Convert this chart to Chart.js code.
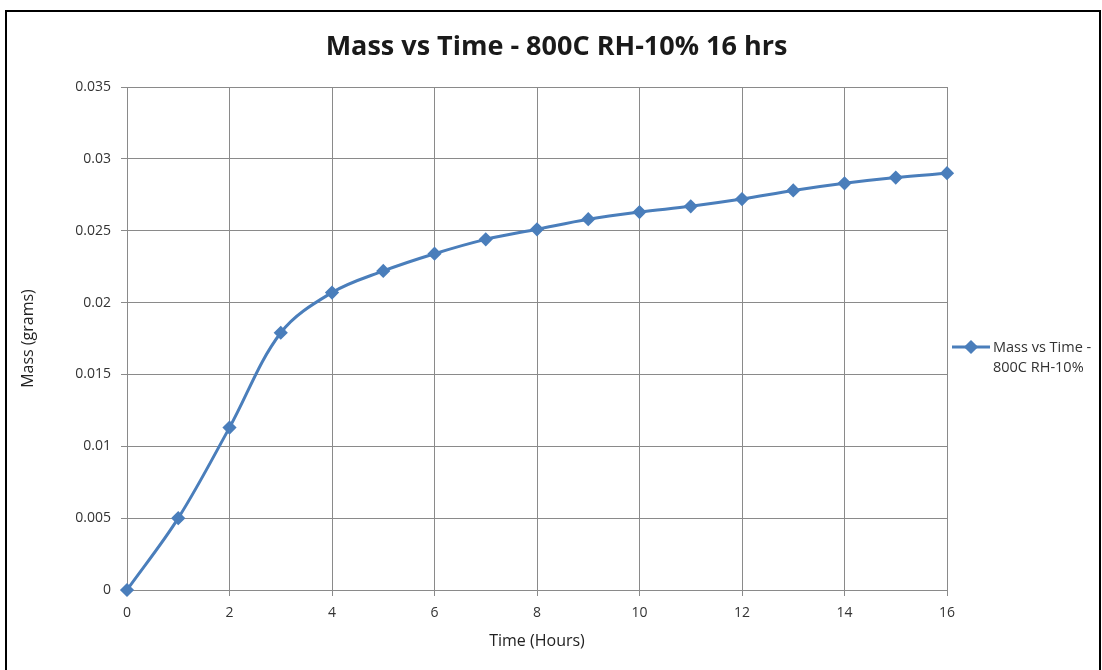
<!DOCTYPE html>
<html>
<head>
<meta charset="utf-8">
<script src="https://cdn.jsdelivr.net/npm/chart.js@4.4.1/dist/chart.umd.min.js"></script>
<style>
  html, body { margin: 0; padding: 0; background: #fff; overflow: hidden; }
  #wrap { position: relative; width: 1102px; height: 670px; }
  #frame { position: absolute; left: 5px; top: 10px; width: 1092px; height: 700px; border: 2px solid #000; pointer-events: none; }
  canvas { position: absolute; left: 0; top: 0; }
</style>
</head>
<body>
<div id="wrap">
  <canvas id="massChart" width="1102" height="670"></canvas>
  <div id="frame"></div>
</div>
<script>
const hours = [0, 1, 2, 3, 4, 5, 6, 7, 8, 9, 10, 11, 12, 13, 14, 15, 16];
const mass = [0, 0.0050, 0.0113, 0.0179, 0.0207, 0.0222, 0.0234, 0.0244, 0.0251, 0.0258, 0.0263, 0.0267, 0.0272, 0.0278, 0.0283, 0.0287, 0.0290];
const xTicks = [0, 2, 4, 6, 8, 10, 12, 14, 16];
const yTicks = [0, 0.005, 0.01, 0.015, 0.02, 0.025, 0.03, 0.035];
const seriesName = ['Mass vs Time -', '800C RH-10%'];

const FONT = '"Open Sans", Lato, sans-serif';
const lineBlue = '#4a7ebb';
const gridGray = '#8a8a8a';

// legend drawn on the right, two lines like the original
const sideLegend = {
  id: 'sideLegend',
  afterDraw(chart) {
    const ctx = chart.ctx;
    const ds = chart.data.datasets[0];
    const x0 = chart.chartArea.right + 5;
    const y0 = 347;
    ctx.save();
    ctx.strokeStyle = ds.borderColor;
    ctx.lineWidth = 3;
    ctx.beginPath();
    ctx.moveTo(x0, y0);
    ctx.lineTo(x0 + 38, y0);
    ctx.stroke();
    ctx.fillStyle = ds.pointBackgroundColor;
    Chart.helpers.drawPoint(ctx, { pointStyle: 'rectRot', radius: 5, rotation: 0, borderWidth: 1 }, x0 + 19, y0);
    ctx.fillStyle = '#333';
    ctx.font = '14.5px ' + FONT;
    ctx.textBaseline = 'middle';
    ctx.textAlign = 'left';
    seriesName.forEach((t, i) => ctx.fillText(t, x0 + 41, y0 + 1 + i * 20));
    ctx.restore();
  }
};

new Chart(document.getElementById('massChart').getContext('2d'), {
  type: 'line',
  data: {
    datasets: [{
      label: seriesName.join(' '),
      data: hours.map((h, i) => ({ x: h, y: mass[i] })),
      borderColor: lineBlue,
      backgroundColor: lineBlue,
      pointBackgroundColor: lineBlue,
      pointBorderColor: lineBlue,
      pointStyle: 'rectRot',
      pointRadius: 5,
      borderWidth: 3,
      tension: 0.35,
      clip: false,
      fill: false
    }]
  },
  options: {
    responsive: false,
    devicePixelRatio: 1,
    animation: false,
    layout: { padding: { left: 11, right: 0, top: 0, bottom: 0 } },
    plugins: {
      legend: { display: false },
      tooltip: { enabled: false },
      title: {
        display: true,
        text: 'Mass vs Time - 800C RH-10% 16 hrs',
        color: '#1a1a1a',
        font: { family: FONT, size: 27, weight: 'bold', lineHeight: 1.2 },
        padding: { top: 31, bottom: 23.6 }
      }
    },
    scales: {
      x: {
        type: 'linear',
        min: 0,
        max: 16,
        afterBuildTicks: s => { s.ticks = xTicks.map(v => ({ value: v })); },
        afterFit: s => { s.height = 80; },
        grid: { color: gridGray, lineWidth: 1, tickLength: 6 },
        border: { color: gridGray },
        ticks: { color: '#333', font: { family: FONT, size: 14 }, padding: 9, maxRotation: 0 },
        title: {
          display: true,
          text: 'Time (Hours)',
          color: '#222',
          font: { family: FONT, size: 16, lineHeight: 1.2 },
          padding: { top: 0, bottom: 19 }
        }
      },
      y: {
        type: 'linear',
        min: 0,
        max: 0.035,
        afterBuildTicks: s => { s.ticks = yTicks.map(v => ({ value: v })); },
        afterFit: s => { s.width = 116; },
        grid: { color: gridGray, lineWidth: 1, tickLength: 6 },
        border: { color: gridGray },
        ticks: {
          color: '#333',
          font: { family: FONT, size: 14 },
          padding: 10,
          callback: v => String(+v.toFixed(3))
        },
        title: {
          display: true,
          text: 'Mass (grams)',
          color: '#222',
          font: { family: FONT, size: 16, lineHeight: 1.2 },
          padding: { top: 8, bottom: 0 }
        }
      },
      // empty right-hand scale that reserves room for the legend
      yLegend: {
        position: 'right',
        afterFit: s => { s.width = 155; },
        grid: { display: false },
        border: { display: false },
        ticks: { display: false }
      }
    }
  },
  plugins: [sideLegend]
});
</script>
</body>
</html>
